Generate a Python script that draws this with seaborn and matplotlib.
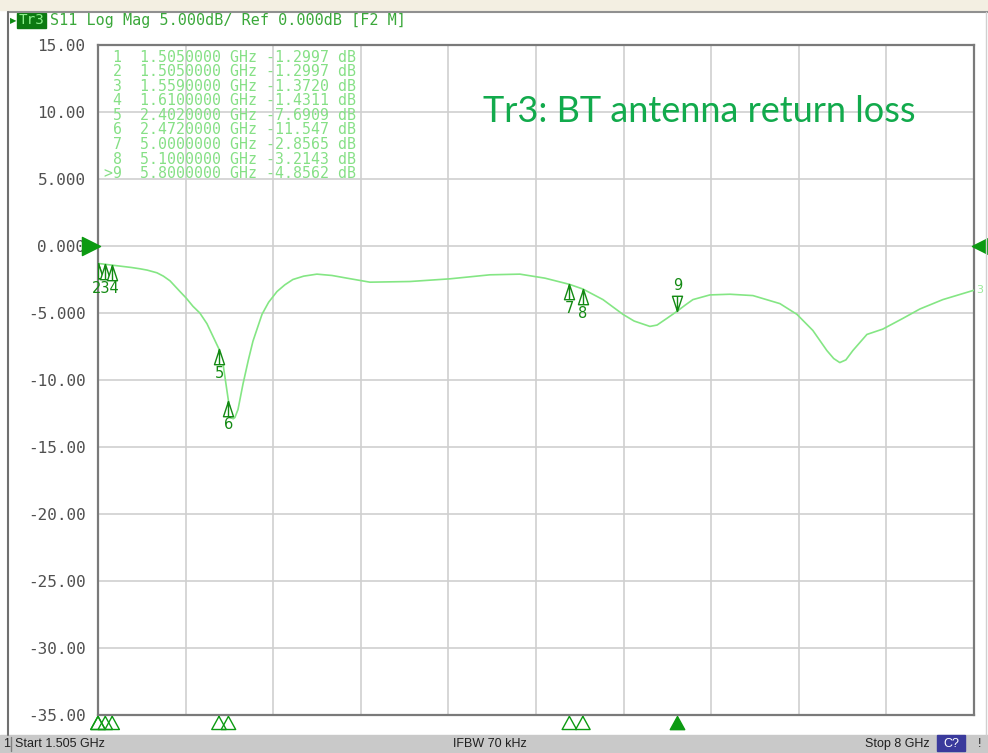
import numpy as np
import pandas as pd
import matplotlib
matplotlib.use("Agg")
import matplotlib.pyplot as plt
import matplotlib.transforms as mtransforms
import seaborn as sns

# ------------------------------
# Data
# ------------------------------
freq_ghz = [1.505, 1.610, 1.668, 1.750, 1.816, 1.870, 1.942, 1.990, 2.039, 2.113,
            2.160, 2.209, 2.260, 2.313, 2.402, 2.432, 2.472, 2.490, 2.506, 2.520,
            2.543, 2.580, 2.620, 2.654, 2.721, 2.770, 2.832, 2.890, 2.950, 3.030,
            3.128, 3.240, 3.351, 3.521, 3.818, 4.114, 4.411, 4.633, 4.819, 5.000,
            5.100, 5.249, 5.397, 5.480, 5.597, 5.650, 5.723, 5.800, 5.860, 5.916,
            6.042, 6.190, 6.361, 6.561, 6.687, 6.805, 6.909, 6.960, 7.005, 7.050,
            7.102, 7.206, 7.324, 7.473, 7.599, 7.769, 8.000]
s11_db = [-1.30, -1.43, -1.50, -1.60, -1.70, -1.80, -2.00, -2.25, -2.60, -3.40,
          -3.90, -4.50, -5.00, -5.80, -7.69, -8.80, -11.55, -12.40, -12.90, -12.80,
          -12.20, -10.30, -8.50, -7.10, -5.10, -4.20, -3.40, -2.90, -2.50, -2.25,
          -2.10, -2.20, -2.40, -2.70, -2.65, -2.45, -2.15, -2.10, -2.40, -2.86,
          -3.21, -4.00, -5.10, -5.60, -6.00, -5.90, -5.40, -4.86, -4.40, -4.00,
          -3.65, -3.60, -3.70, -4.30, -5.10, -6.30, -7.80, -8.40, -8.70, -8.50,
          -7.80, -6.60, -6.20, -5.40, -4.70, -4.00, -3.30]

marker_ids = ["1", "2", "3", "4", "5", "6", "7", "8", "9"]
marker_freq = [1.505, 1.505, 1.559, 1.610, 2.402, 2.472, 5.000, 5.100, 5.800]
marker_db = [-1.2997, -1.2997, -1.3720, -1.4311, -7.6909, -11.547, -2.8565, -3.2143, -4.8562]
marker_db_text = ["-1.2997", "-1.2997", "-1.3720", "-1.4311", "-7.6909",
                  "-11.547", "-2.8565", "-3.2143", "-4.8562"]
active_marker = "9"
# markers 1-4 sit on top of each other, the analyzer prints their numbers as one group
grouped_label = "234"
grouped_ids = ["1", "2", "3", "4"]

y_ticks = [15, 10, 5, 0, -5, -10, -15, -20, -25, -30, -35]
y_tick_labels = ["15.00", "10.00", "5.000", "0.000", "-5.000", "-10.00",
                 "-15.00", "-20.00", "-25.00", "-30.00", "-35.00"]
start_ghz, stop_ghz = 1.505, 8.0

df = pd.DataFrame({"freq": freq_ghz, "s11": s11_db})

# ------------------------------
# Style
# ------------------------------
sns.set_theme(style="white")
plt.rcParams["font.family"] = ["DejaVu Sans Mono"]

W, H = 988, 753
fig = plt.figure(figsize=(W / 100, H / 100), dpi=100)
fig.patch.set_facecolor("white")


def fx(px):
    return px / W


def fy(py):
    return 1 - py / H


# window chrome
fig.patches.append(plt.Rectangle((0, fy(10)), 1, 10 / H, transform=fig.transFigure,
                                 color="#f3efe2", zorder=0))
fig.add_artist(plt.Line2D([fx(8), 1], [fy(12), fy(12)], color="#909090", lw=1.5))
fig.add_artist(plt.Line2D([fx(8), fx(8)], [fy(12), fy(735)], color="#707070", lw=1.5))
fig.add_artist(plt.Line2D([fx(986), fx(986)], [fy(12), fy(735)], color="#d0d0d0", lw=1.0))
fig.patches.append(plt.Rectangle((0, 0), 1, 18 / H, transform=fig.transFigure,
                                 color="#c9c9c9", zorder=0))
fig.patches.append(plt.Rectangle((fx(937), fy(751)), 28 / W, 16 / H, transform=fig.transFigure,
                                 color="#3a3a9c", zorder=1))
fig.patches.append(plt.Rectangle((fx(17), fy(28)), 29 / W, 15 / H, transform=fig.transFigure,
                                 color="#0c7a12", zorder=1))

# header line
fig.text(fx(10), fy(20.5), "\u25b6", color="#0c8a12", fontsize=6, va="center",
         family="DejaVu Sans")
fig.text(fx(18.5), fy(20.5), "Tr3", color="#8cf08c", fontsize=10.3, va="center")
fig.text(fx(50), fy(20.5), "S11 Log Mag 5.000dB/ Ref 0.000dB [F2 M]",
         color="#3aa83a", fontsize=10.9, va="center")

# status bar
fig.text(fx(3), fy(744), "1", color="#202020", fontsize=9, va="center",
         family="Liberation Sans")
fig.add_artist(plt.Line2D([fx(11), fx(11)], [fy(737), fy(751)], color="#808080", lw=1))
fig.text(fx(15), fy(744), "Start 1.505 GHz", color="#202020", fontsize=9, va="center",
         family="Liberation Sans")
fig.text(fx(490), fy(744), "IFBW 70 kHz", color="#202020", fontsize=9, va="center",
         ha="center", family="Liberation Sans")
fig.text(fx(930), fy(744), "Stop 8 GHz", color="#202020", fontsize=9, va="center",
         ha="right", family="Liberation Sans")
fig.text(fx(951), fy(744), "C?", color="white", fontsize=9, va="center",
         ha="center", family="Liberation Sans")
fig.text(fx(978), fy(744), "!", color="#202020", fontsize=9, va="center",
         family="Liberation Sans")

# ------------------------------
# Trace
# ------------------------------
ax = fig.add_axes([fx(98), fy(715), (974 - 98) / W, (715 - 45) / H])
ax.set_facecolor("white")
sns.lineplot(data=df, x="freq", y="s11", ax=ax, color="#84e684", lw=1.2, zorder=3)

ax.set_xlim(start_ghz, stop_ghz)
ax.set_ylim(-35, 15)
ax.set_xticks(np.linspace(start_ghz, stop_ghz, 11))
ax.set_xticklabels([])
ax.set_yticks(y_ticks)
ax.set_yticklabels(y_tick_labels, fontsize=11.5, color="#505050")
ax.tick_params(axis="both", length=0, pad=9)
ax.set_xlabel("")
ax.set_ylabel("")
ax.grid(True, color="#cfcfcf", lw=1.2)
for s in ax.spines.values():
    s.set_color("#7a7a7a")
    s.set_linewidth(1.6)

# marker triangles (tip at the trace point)
up_tri = [(0, 0), (-0.33, -1), (0.33, -1), (0, 0), (0, -1)]
down_tri = [(0, 0), (-0.33, 1), (0.33, 1), (0, 0), (0, 1)]
for mid, f, v in zip(marker_ids, marker_freq, marker_db):
    if mid == active_marker:
        ax.scatter([f], [v], marker=down_tri, s=480, facecolor="white",
                   edgecolor="#138a13", lw=1.0, zorder=5)
        ax.annotate(mid, (f, v), xytext=(0, 13), textcoords="offset points",
                    ha="center", va="bottom", color="#138a13", fontsize=10.5,
                    family="DejaVu Sans")
    else:
        ax.scatter([f], [v], marker=up_tri, s=480, facecolor="white",
                   edgecolor="#138a13", lw=1.0, zorder=5)
        if mid not in grouped_ids:
            ax.annotate(mid, (f, v), xytext=(0, -12), textcoords="offset points",
                        ha="center", va="top", color="#138a13", fontsize=10.5,
                        family="DejaVu Sans")

g_idx = [marker_ids.index(m) for m in grouped_ids]
ax.annotate(grouped_label, (marker_freq[g_idx[2]], marker_db[g_idx[2]]),
            xytext=(0, -12), textcoords="offset points", ha="center", va="top",
            color="#138a13", fontsize=10.5, family="DejaVu Sans Condensed")

# marker row under the grid
trans = mtransforms.blended_transform_factory(ax.transData, ax.transAxes)
for mid, f in zip(marker_ids, marker_freq):
    ax.scatter([f], [-0.002], marker=[(0, 0), (-0.55, -1), (0.55, -1), (0, 0)], s=360,
               transform=trans, clip_on=False, lw=1.0, zorder=5,
               facecolor="#0c9a12" if mid == active_marker else "none",
               edgecolor="#0c9a12")

# reference level arrows
ref = mtransforms.blended_transform_factory(ax.transAxes, ax.transData)
ax.scatter([-0.008], [0], marker=">", s=170, color="#0c9a12", transform=ref,
           clip_on=False, zorder=6)
ax.scatter([1.008], [0], marker="<", s=170, color="#0c9a12", transform=ref,
           clip_on=False, zorder=6)
ax.text(1.003, s11_db[-1], "3", transform=ref, color="#9ae89a", fontsize=8,
        va="center", family="DejaVu Sans")

# marker table
for i, (mid, f, txt) in enumerate(zip(marker_ids, marker_freq, marker_db_text)):
    label = (">" + mid) if mid == active_marker else mid
    line = f"{label:>2}  {f:.7f} GHz {txt} dB"
    fig.text(fx(104), fy(57 + i * 14.6), line, color="#86e086", fontsize=10.7,
             va="center")

# title
ax.text(0.439, 0.9, "Tr3: BT antenna return loss", transform=ax.transAxes,
        color="#12aa4c", fontsize=26, va="center", family="Lato")

fig.savefig("out.png", dpi=100)
